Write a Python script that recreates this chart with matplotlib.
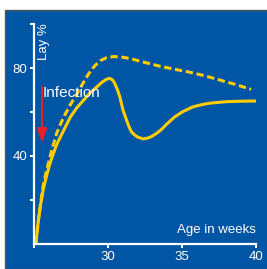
import matplotlib
matplotlib.use('Agg')
import matplotlib.pyplot as plt
from matplotlib.patches import Rectangle

plt.rcParams['font.family'] = ['Liberation Sans', 'DejaVu Sans']

# solid curve: lay % with infection
age_infected = [25.13, 25.2, 25.3, 25.45, 25.63, 25.85, 26.05, 26.23, 26.55, 26.9,
                27.2, 27.47, 27.9, 28.36, 28.8, 29.26, 29.6, 29.9, 30.1, 30.3,
                30.45, 30.62, 30.79, 31.0, 31.24, 31.4, 31.57, 31.8, 32.0, 32.36,
                32.65, 32.92, 33.25, 33.59, 34.0, 34.5, 35.0, 35.7, 36.3, 36.84,
                37.5, 38.0, 39.0, 40.0]
lay_infected = [0, 5, 11, 18, 25, 31, 36, 39.7, 45.5, 50.3,
                54.3, 57.9, 62, 65.5, 68.8, 71.5, 73.6, 74.9, 75.3, 74.6,
                73, 70.3, 67, 61, 56.4, 53.5, 51, 49.5, 48.6, 47.8,
                48.1, 48.8, 50.2, 52, 54.8, 57.8, 60, 62.3, 63.3, 64,
                64.4, 64.7, 64.9, 65]

# dashed curve: normal lay %
age_normal = [25.13, 25.2, 25.3, 25.45, 25.63, 25.85, 26.08, 26.3, 26.53, 26.77,
              27.02, 27.47, 27.87, 28.3, 28.7, 29.1, 29.49, 29.9, 30.38, 31.0,
              31.66, 32.5, 33.5, 34.5, 35.5, 36.5, 37.5, 38.5, 39.65]
lay_normal = [0, 5, 11, 19, 27, 33.5, 39.7, 45, 50.3, 54.2,
              57.9, 63.5, 68, 73, 77.5, 81, 83.4, 84.7, 85.2, 84.9,
              84.0, 82.5, 80.8, 79.4, 78.1, 76.5, 74.6, 72.7, 70.3]

x_ticks = [25, 30, 35, 40]
x_labels = ['', '30', '35', '40']
y_ticks = [20, 40, 60, 80, 100]
y_labels = ['', '40', '', '80', '']

blue = '#0055A5'
yellow = '#FFCC00'
red = '#E8202A'

fig = plt.figure(figsize=(2.67, 2.69), dpi=100)
fig.patch.set_facecolor('white')
# blue panel behind the chart
fig.add_artist(Rectangle((5 / 267, 0), 1, 259 / 269, transform=fig.transFigure,
                         facecolor=blue, edgecolor='#555555', lw=1.0, zorder=-5))

ax = fig.add_axes([34 / 267, 25 / 269, 222.3 / 267, 220 / 269])
ax.set_zorder(2)
ax.patch.set_alpha(0)

ax.plot(age_infected, lay_infected, color=yellow, lw=2.2,
        solid_capstyle='butt', solid_joinstyle='round')
ax.plot(age_normal, lay_normal, color=yellow, lw=2.2, dashes=(2.4, 1.2),
        dash_capstyle='butt')

ax.set_xlim(25, 40)
ax.set_ylim(0, 100)
ax.set_xticks(x_ticks)
ax.set_xticklabels(x_labels)
ax.set_yticks(y_ticks)
ax.set_yticklabels(y_labels)

for s in ['top', 'right']:
    ax.spines[s].set_visible(False)
for s in ['left', 'bottom']:
    ax.spines[s].set_color('white')
    ax.spines[s].set_linewidth(1.6)
ax.tick_params(colors='white', direction='out', length=3, width=1.4,
               labelsize=9.5, pad=2)

ax.text(0.018, 1.005, 'Lay %', transform=ax.transAxes, rotation=90,
        ha='left', va='top', color='white', fontsize=9.5)
ax.text(1.0, 0.035, 'Age in weeks', transform=ax.transAxes,
        ha='right', va='bottom', color='white', fontsize=9.5)
ax.text(0.04, 0.686, 'Infection', transform=ax.transAxes,
        ha='left', va='center', color='white', fontsize=11)

ax.annotate('', xy=(25.54, 45.9), xytext=(25.54, 71.4),
            arrowprops=dict(arrowstyle='-|>,head_length=0.85,head_width=0.3',
                            color=red, lw=1.5, shrinkA=0, shrinkB=0))

fig.savefig('out.png', dpi=100)
